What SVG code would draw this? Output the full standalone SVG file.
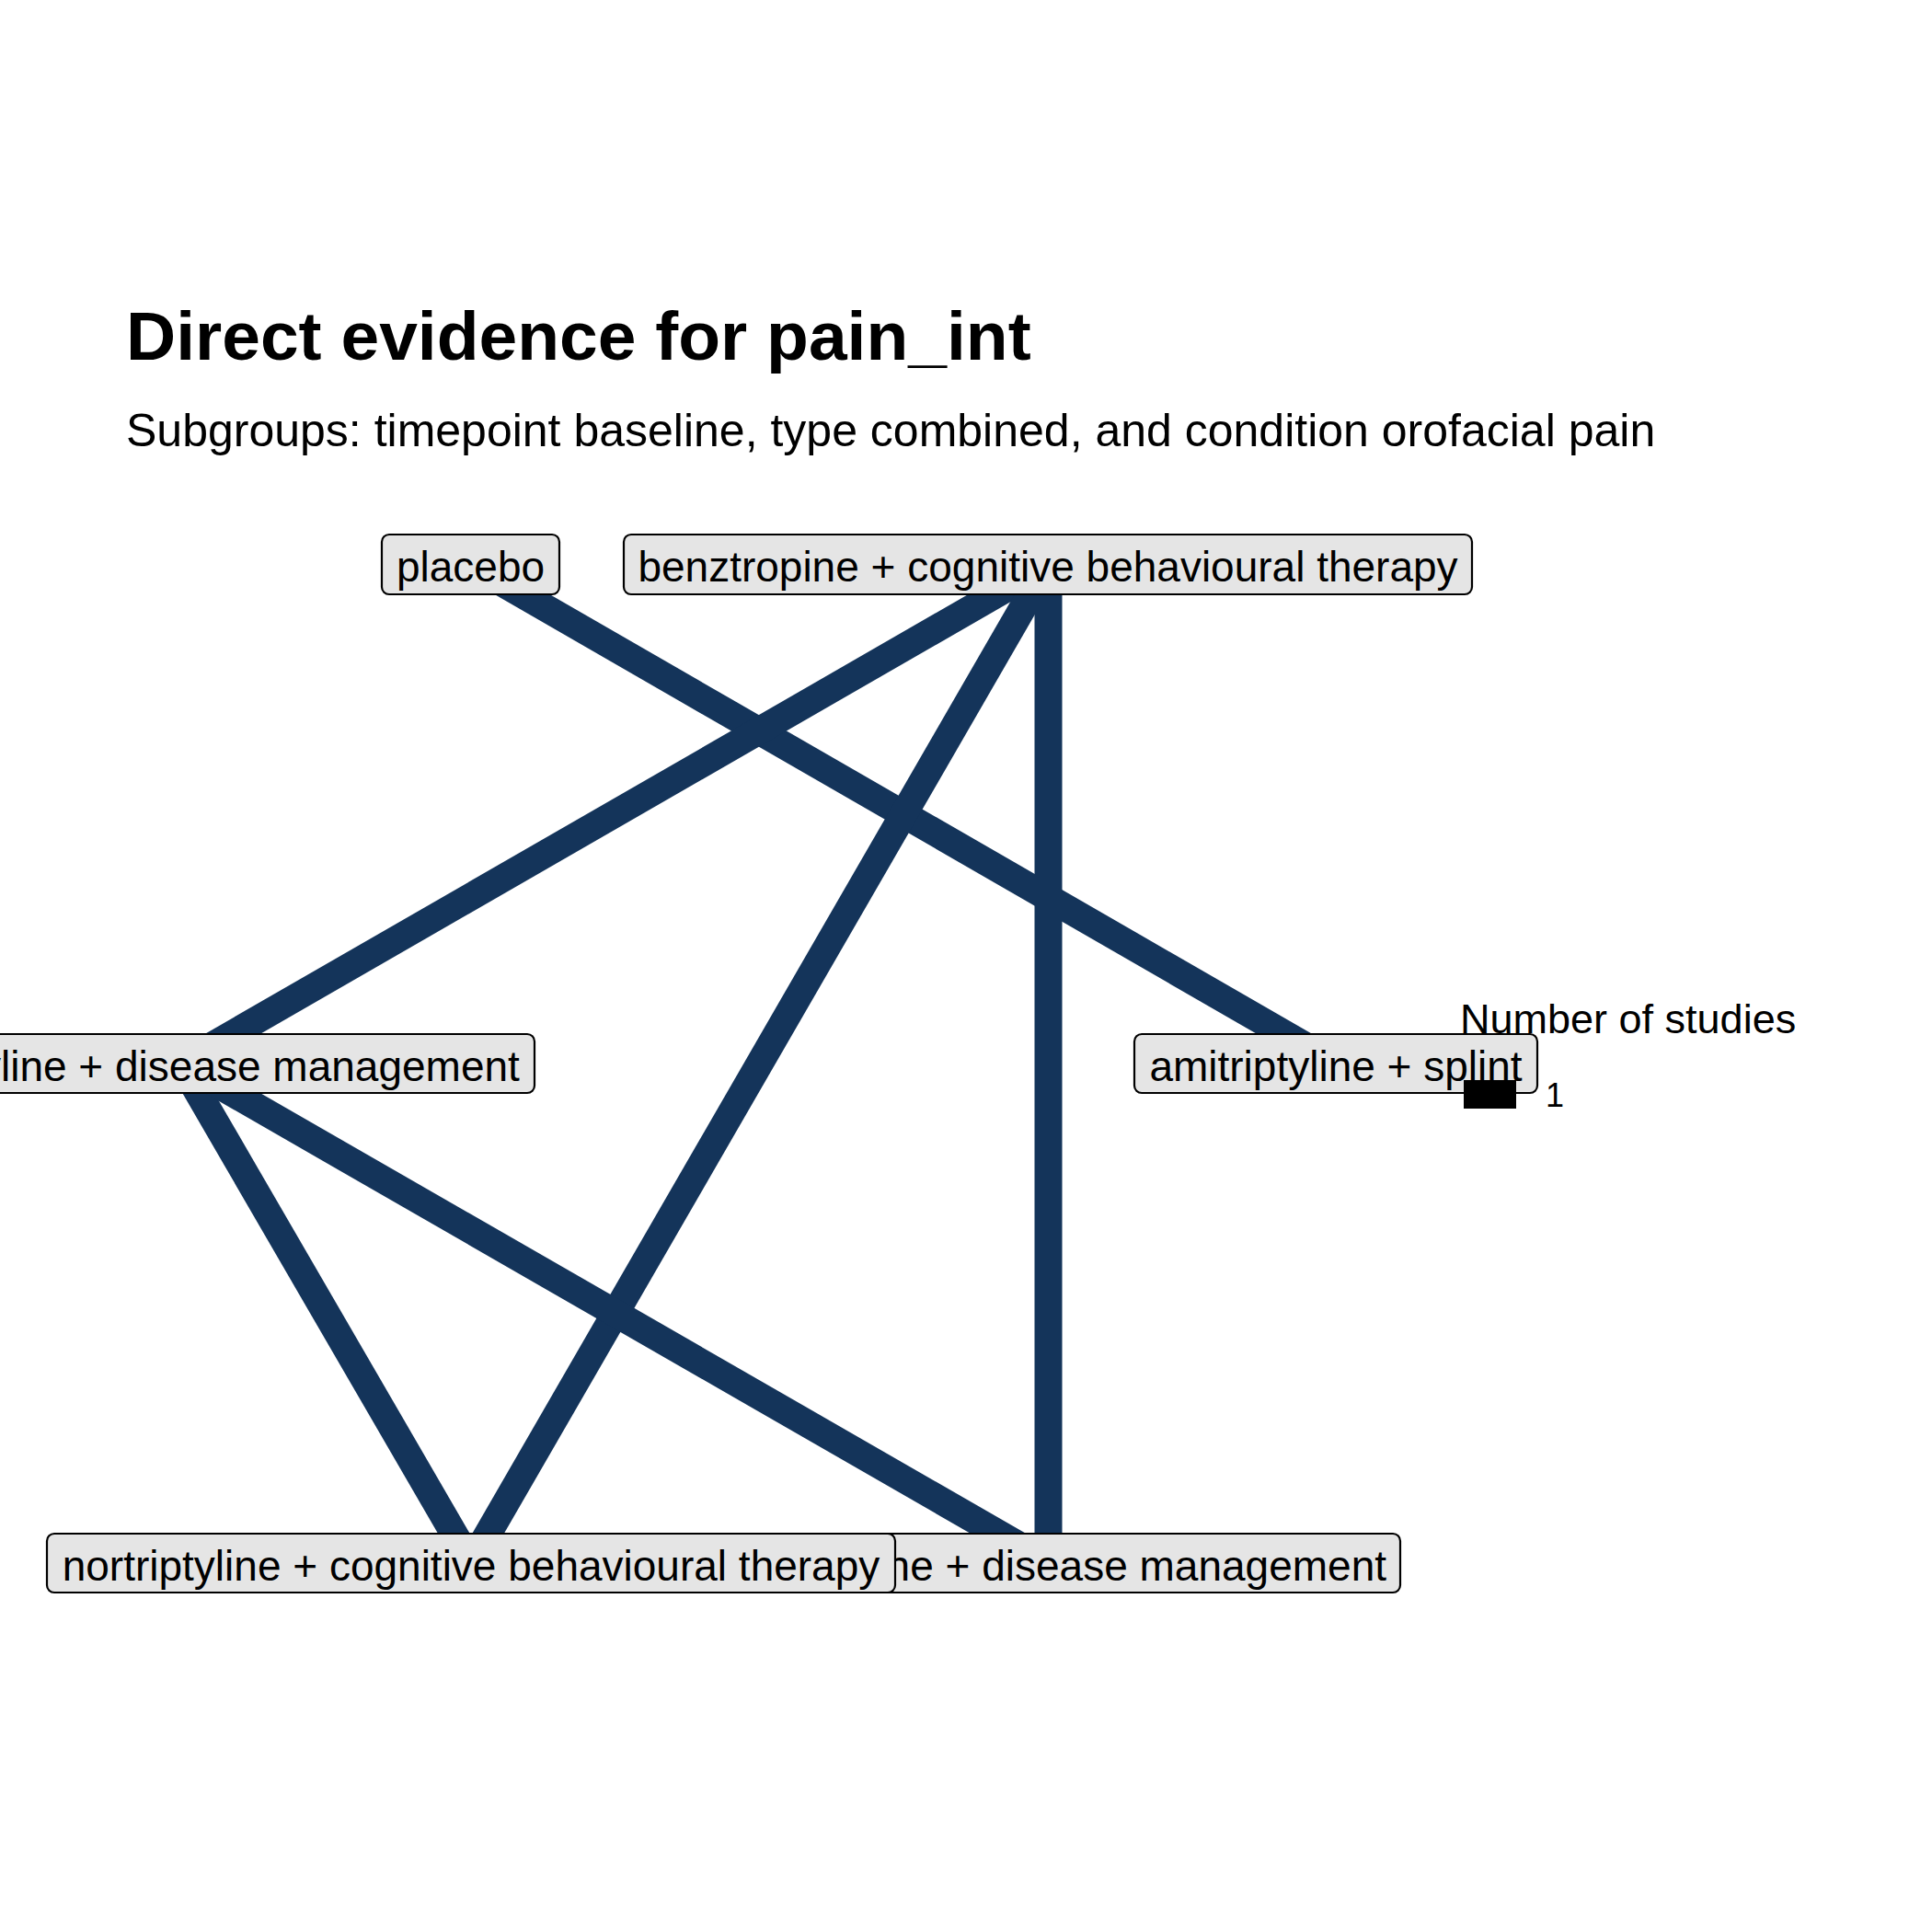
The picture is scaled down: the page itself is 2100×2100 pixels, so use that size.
<svg xmlns="http://www.w3.org/2000/svg" width="2100" height="2100" viewBox="0 0 2100 2100">
<style>
.edge{stroke:#14345a;stroke-width:30;stroke-linecap:butt;fill:none}
.box{fill:#e5e5e5;stroke:#000;stroke-width:2.2}
.lbl{font-family:"Liberation Sans",Arial,sans-serif;font-size:46px;fill:#000;text-anchor:middle}
.title{font-family:"Liberation Sans",Arial,sans-serif;font-size:75px;font-weight:bold;fill:#000}
.sub{font-family:"Liberation Sans",Arial,sans-serif;font-size:50px;fill:#000}
.leg{font-family:"Liberation Sans",Arial,sans-serif;fill:#000}
</style>
<rect x="0" y="0" width="2100" height="2100" fill="#fff"/>
<text class="title" x="137" y="391">Direct evidence for pain_int</text>
<text class="sub" x="137" y="485">Subgroups: timepoint baseline, type combined, and condition orofacial pain</text>
<g id="edges">
<line class="edge" x1="511" y1="613.5" x2="1452" y2="1156"/>
<line class="edge" x1="1139" y1="613.5" x2="197" y2="1156"/>
<line class="edge" x1="1139" y1="613.5" x2="512" y2="1699"/>
<line class="edge" x1="1139.5" y1="613.5" x2="1139.5" y2="1699"/>
<line class="edge" x1="197" y1="1156" x2="512" y2="1699"/>
<line class="edge" x1="197" y1="1156" x2="1141" y2="1699"/>
</g>
<g id="node-placebo">
<rect class="box" x="415" y="581" width="193" height="65" rx="8"/>
<text class="lbl" x="511.5" y="632">placebo</text>
</g>
<g id="node-benztropine-cbt">
<rect class="box" x="678" y="581" width="922" height="65" rx="8"/>
<text class="lbl" x="1139" y="632">benztropine + cognitive behavioural therapy</text>
</g>
<g id="node-amitriptyline-splint">
<rect class="box" x="1233" y="1124" width="438" height="64" rx="8"/>
<text class="lbl" x="1452" y="1174.5">amitriptyline + splint</text>
</g>
<g id="node-amitriptyline-dm">
<rect class="box" x="-190" y="1124" width="771" height="64" rx="8"/>
<text class="lbl" x="196" y="1174.5">amitriptyline + disease management</text>
</g>
<g id="node-nortriptyline-dm">
<rect class="box" x="762" y="1667" width="760" height="64" rx="8"/>
<text class="lbl" x="1142" y="1717.5">nortriptyline + disease management</text>
</g>
<g id="node-nortriptyline-cbt">
<rect class="box" x="51" y="1667" width="922" height="64" rx="8"/>
<text class="lbl" x="512" y="1717.5">nortriptyline + cognitive behavioural therapy</text>
</g>
<g id="legend">
<text class="leg" x="1587" y="1123" font-size="45">Number of studies</text>
<rect x="1591" y="1174" width="57" height="31" fill="#000"/>
<text class="leg" x="1680" y="1203" font-size="36">1</text>
</g>
</svg>
